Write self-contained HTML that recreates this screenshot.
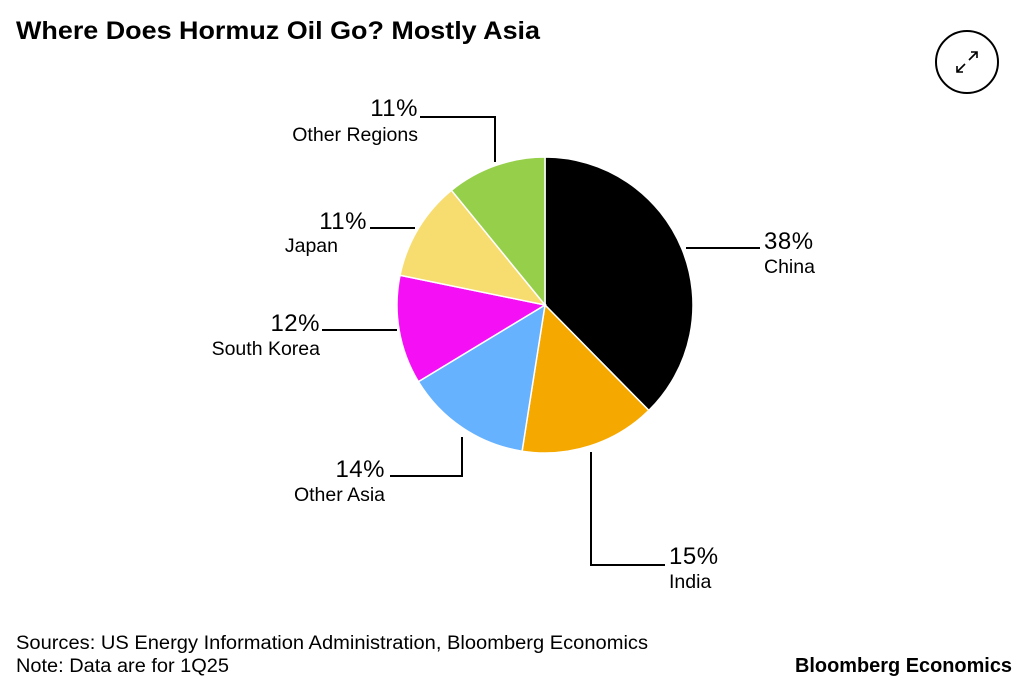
<!DOCTYPE html>
<html><head><meta charset="utf-8"><style>
body{margin:0;background:#fff;width:1030px;height:697px;overflow:hidden;font-family:"Liberation Sans",Arial,sans-serif;}
svg{position:absolute;left:0;top:0}
</style></head><body>
<svg width="1030" height="697">
<text x="16" y="39" font-size="25" font-weight="bold" fill="#000" textLength="524" lengthAdjust="spacingAndGlyphs">Where Does Hormuz Oil Go? Mostly Asia</text>
<g>
<circle cx="967" cy="62" r="31" fill="#fff" stroke="#000" stroke-width="2"/>
<path d="M969 60 L977 52 M971 52 L977 52 L977 58 M965 64 L957 72 M957 66 L957 72 L963 72" fill="none" stroke="#000" stroke-width="1.6"/>
</g>
<g id="pie"></g>
<g id="labels"></g>
<text x="16" y="649" font-size="19" textLength="632" lengthAdjust="spacingAndGlyphs">Sources: US Energy Information Administration, Bloomberg Economics</text>
<text x="16" y="672" font-size="19" textLength="213" lengthAdjust="spacingAndGlyphs">Note: Data are for 1Q25</text>
<text x="1012" y="672" font-size="20" font-weight="bold" text-anchor="end" textLength="217" lengthAdjust="spacingAndGlyphs">Bloomberg Economics</text>
</svg>
<script>
const categories=["China","India","Other Asia","South Korea","Japan","Other Regions"];
const values=[38,15,14,12,11,11];
const colors=["#000000","#f5a800","#66b2ff","#f50ff5","#f7dc6f","#96d04b"];
const cx=545,cy=305,r=148;
const NS="http://www.w3.org/2000/svg";
const total=values.reduce((a,b)=>a+b,0);
function pt(a,rr){return [cx+rr*Math.sin(a),cy-rr*Math.cos(a)];}
const pie=document.getElementById('pie');
let acc=0;
values.forEach((v,i)=>{
 const a0=acc/total*2*Math.PI; acc+=v; const a1=acc/total*2*Math.PI;
 const p0=pt(a0,r),p1=pt(a1,r);
 const path=document.createElementNS(NS,'path');
 path.setAttribute('d',`M${cx} ${cy} L${p0[0]} ${p0[1]} A${r} ${r} 0 ${a1-a0>Math.PI?1:0} 1 ${p1[0]} ${p1[1]} Z`);
 path.setAttribute('fill',colors[i]);path.setAttribute('stroke','#fff');path.setAttribute('stroke-width','1.5');
 
 
 pie.appendChild(path);
});
const layout=[
 {line:"M686 248 L760 248",x:764,anchor:"start",py:249,ny:273},
 {line:"M591 452 L591 565 L665 565",x:669,anchor:"start",py:564,ny:588},
 {line:"M462 437 L462 476 L390 476",x:385,anchor:"end",py:477,ny:501},
 {line:"M397 330 L322 330",x:320,anchor:"end",py:331,ny:355},
 {line:"M415 228 L370 228",x:367,anchor:"end",py:229,ny:252,nx:338},
 {line:"M495 162 L495 117 L420 117",x:418,anchor:"end",py:116,ny:141}
];
const lg=document.getElementById('labels');
layout.forEach((L,i)=>{
 const p=document.createElementNS(NS,'path');
 p.setAttribute('d',L.line);p.setAttribute('fill','none');p.setAttribute('stroke','#000');p.setAttribute('stroke-width','2');
 
 
 lg.appendChild(p);
 const t=document.createElementNS(NS,'text');
 t.setAttribute('x',L.x);t.setAttribute('y',L.py);t.setAttribute('text-anchor',L.anchor);t.setAttribute('font-size','24');t.setAttribute('letter-spacing','0.5');
 t.textContent=values[i]+'%';
 
 
 lg.appendChild(t);
 const n=document.createElementNS(NS,'text');
 n.setAttribute('x',L.nx||L.x);n.setAttribute('y',L.ny);n.setAttribute('text-anchor',L.anchor);n.setAttribute('font-size','19.5');
 n.textContent=categories[i];
 
 
 lg.appendChild(n);
});
</script>
</body></html>
